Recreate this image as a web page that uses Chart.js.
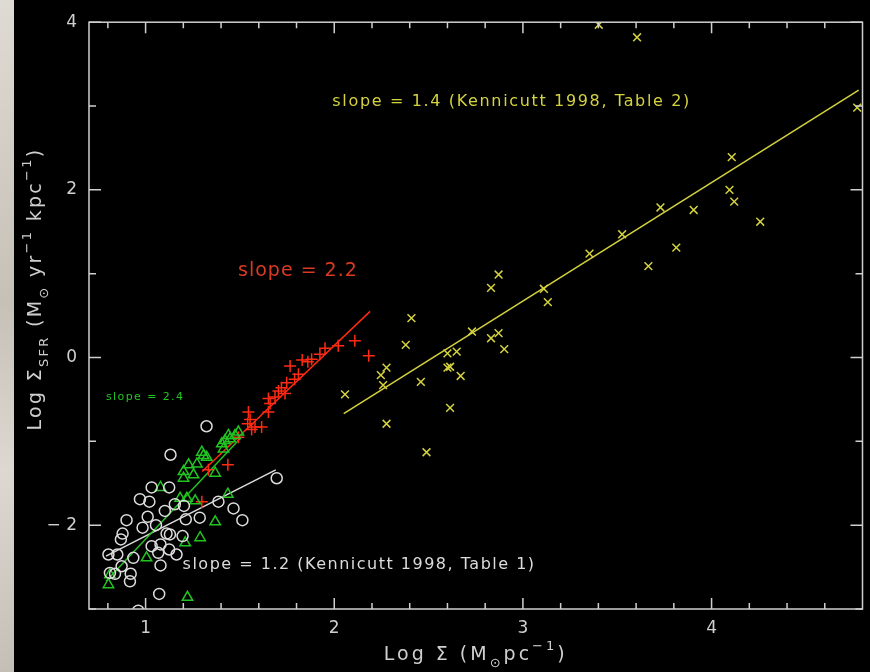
<!DOCTYPE html>
<html>
<head>
<meta charset="utf-8">
<script src="https://cdn.jsdelivr.net/npm/chart.js@4/dist/chart.umd.min.js"></script>
<style>
  html, body { margin: 0; padding: 0; background: #000; }
  #wrap { position: relative; width: 870px; height: 672px; background: #000; overflow: hidden; }
  #marble {
    position: absolute; left: 0; top: 0; width: 14px; height: 672px;
    background:
      linear-gradient(170deg, rgba(255,255,255,0.25) 0%, rgba(0,0,0,0) 20%, rgba(120,110,100,0.15) 45%, rgba(255,255,255,0.2) 70%, rgba(0,0,0,0.08) 100%),
      #d4cfc6;
  }
  canvas { position: absolute; left: 0; top: 0; }
</style>
</head>
<body>
<div id="wrap">
  <div id="marble"></div>
  <canvas id="sfr" width="870" height="672"></canvas>
</div>
<script>
// tick labels
const xMajorTicks = [1, 2, 3, 4];
const yMajorTicks = [-2, 0, 2, 4];

// Table 1 galaxies (white circles)
const circles = [
  [1.323,-0.82],[1.132,-1.16],[1.032,-1.55],[1.125,-1.55],[0.970,-1.69],[1.020,-1.72],
  [1.102,-1.83],[1.155,-1.75],[1.203,-1.77],[0.899,-1.94],[1.011,-1.90],[0.984,-2.03],
  [1.055,-2.00],[0.878,-2.10],[0.869,-2.17],[1.111,-2.10],[1.129,-2.11],[1.213,-1.93],
  [1.287,-1.91],[1.196,-2.13],[1.032,-2.25],[1.079,-2.23],[1.067,-2.33],[1.125,-2.29],
  [1.164,-2.35],[0.803,-2.35],[0.850,-2.35],[0.935,-2.39],[1.079,-2.48],[0.873,-2.49],
  [0.921,-2.58],[0.917,-2.67],[1.072,-2.82],[0.961,-3.02],[0.838,-2.58],[0.811,-2.57],
  [1.386,-1.72],[1.466,-1.80],[1.513,-1.94],[1.695,-1.44]
];

// green triangles
const triangles = [
  [1.492,-0.89],[1.474,-0.93],[1.439,-0.93],[1.448,-0.97],[1.421,-0.99],[1.404,-1.03],
  [1.413,-1.09],[1.298,-1.13],[1.307,-1.17],[1.324,-1.19],[1.272,-1.27],[1.228,-1.28],
  [1.201,-1.36],[1.201,-1.44],[1.254,-1.40],[1.369,-1.38],[1.183,-1.68],[1.219,-1.68],
  [1.263,-1.71],[1.436,-1.63],[1.369,-1.96],[1.289,-2.15],[1.210,-2.21],[1.079,-1.55],
  [1.005,-2.39],[0.811,-2.59],[0.803,-2.71],[1.222,-2.86]
];

// red plus signs
const pluses = [
  [2.109,0.20],[2.183,0.02],[2.021,0.14],[1.951,0.11],[1.924,0.04],[1.880,-0.02],
  [1.860,-0.05],[1.830,-0.03],[1.766,-0.10],[1.810,-0.20],[1.790,-0.26],[1.748,-0.30],
  [1.720,-0.36],[1.739,-0.43],[1.704,-0.40],[1.686,-0.47],[1.651,-0.49],[1.660,-0.55],
  [1.651,-0.65],[1.545,-0.65],[1.554,-0.74],[1.541,-0.79],[1.580,-0.83],[1.615,-0.83],
  [1.562,-0.86],[1.492,-0.95],[1.436,-1.28],[1.333,-1.34],[1.298,-1.72]
];

// Table 2 starbursts (yellow crosses)
const crosses = [
  [2.057,-0.44],[2.277,-0.12],[2.247,-0.21],[2.259,-0.33],[2.277,-0.79],[2.409,0.47],
  [2.379,0.15],[2.459,-0.29],[2.489,-1.13],[2.600,0.05],[2.649,0.07],[2.600,-0.12],
  [2.614,-0.11],[2.670,-0.22],[2.614,-0.60],[2.730,0.31],[2.831,0.83],[2.871,0.99],
  [2.831,0.23],[2.871,0.29],[2.901,0.10],[3.111,0.82],[3.132,0.66],[3.402,3.97],
  [3.605,3.82],[4.772,2.98],[4.107,2.39],[4.095,2.00],[4.120,1.86],[4.258,1.62],
  [3.905,1.76],[3.729,1.79],[3.813,1.31],[3.665,1.09],[3.526,1.47],[3.353,1.24]
];

// fitted lines (end points)
const fitTable2 = [[2.05,-0.67],[4.78,3.19]];
const fitRed = [[1.30,-1.36],[2.19,0.55]];
const fitGreen = [[0.79,-2.67],[1.50,-0.97]];
const fitTable1 = [[0.79,-2.37],[1.69,-1.34]];

const WHITE = '#dcdcdc', GREEN = '#22c422', RED = '#ff2a12', YELLOW = '#d4d23e', AXIS = '#cfcfcf';

const toXY = arr => arr.map(p => ({x: p[0], y: p[1]}));

function pts(label, data, color, style, r) {
  return {
    label: label, data: toXY(data), showLine: false,
    pointStyle: style, radius: r, borderColor: color, backgroundColor: 'rgba(0,0,0,0)',
    borderWidth: 1.5
  };
}
function fit(label, data, color) {
  return {
    label: label, data: toXY(data), showLine: true, pointRadius: 0,
    borderColor: color, borderWidth: 1.5, fill: false
  };
}

// slope annotations, placed in data coordinates
const notes = [
  {text: 'slope = 1.4 (Kennicutt 1998, Table 2)', x: 1.99, y: 3.05, color: YELLOW, size: 16, sp: 1.65},
  {text: 'slope = 2.2', x: 1.49, y: 1.03, color: '#d83a22', size: 19, sp: 1},
  {text: 'slope = 2.4', x: 0.79, y: -0.47, color: GREEN, size: 11, sp: 1.4},
  {text: 'slope = 1.2 (Kennicutt 1998, Table 1)', x: 1.196, y: -2.47, color: WHITE, size: 16, sp: 1.5}
];

const FONT = '"DejaVu Sans", sans-serif';

function drawRich(ctx, parts, size, sp) {
  // parts: [text, shift] where shift -1 = subscript, 1 = superscript; drawn centred at (0,0)
  const small = Math.round(size * 0.7);
  ctx.letterSpacing = sp + 'px';
  let total = 0;
  parts.forEach(p => {
    ctx.font = (p[1] ? small : size) + 'px ' + FONT;
    total += ctx.measureText(p[0]).width;
  });
  let x = -total / 2;
  ctx.textAlign = 'left';
  ctx.textBaseline = 'middle';
  parts.forEach(p => {
    ctx.font = (p[1] ? small : size) + 'px ' + FONT;
    const dy = p[1] === -1 ? size * 0.45 : (p[1] === 1 ? -size * 0.45 : 0);
    ctx.fillText(p[0], x, dy);
    x += ctx.measureText(p[0]).width;
  });
  ctx.letterSpacing = '0px';
}

const framePlugin = {
  id: 'frame',
  afterDatasetsDraw(chart) {
    const ctx = chart.ctx, a = chart.chartArea;
    const xs = chart.scales.x, ys = chart.scales.y;
    ctx.save();
    ctx.strokeStyle = AXIS;
    ctx.lineWidth = 1.5;
    ctx.strokeRect(a.left, a.top, a.right - a.left, a.bottom - a.top);
    ctx.beginPath();
    for (let i = 4; i <= 23; i++) {
      const v = i / 5;
      const px = xs.getPixelForValue(v);
      const len = (i % 5 === 0) ? 11 : 6;
      ctx.moveTo(px, a.bottom); ctx.lineTo(px, a.bottom - len);
      ctx.moveTo(px, a.top); ctx.lineTo(px, a.top + len);
    }
    for (let v = -3; v <= 4; v++) {
      const py = ys.getPixelForValue(v);
      const len = (v % 2 === 0) ? 12 : 7;
      ctx.moveTo(a.left, py); ctx.lineTo(a.left + len, py);
      ctx.moveTo(a.right, py); ctx.lineTo(a.right - len, py);
    }
    ctx.stroke();

    notes.forEach(n => {
      ctx.fillStyle = n.color;
      ctx.font = n.size + 'px ' + FONT;
      ctx.letterSpacing = n.sp + 'px';
      ctx.textAlign = 'left';
      ctx.textBaseline = 'middle';
      ctx.fillText(n.text, xs.getPixelForValue(n.x), ys.getPixelForValue(n.y));
    });
    ctx.letterSpacing = '0px';

    ctx.fillStyle = AXIS;
    ctx.save();
    ctx.translate((a.left + a.right) / 2, 655);
    drawRich(ctx, [['Log Σ (M', 0], ['⊙', -1], ['pc', 0], ['−1', 1], [')', 0]], 19, 3);
    ctx.restore();
    ctx.save();
    ctx.translate(36, 289);
    ctx.rotate(-Math.PI / 2);
    drawRich(ctx, [['Log Σ', 0], ['SFR', -1], [' (M', 0], ['⊙', -1], [' yr', 0], ['−1', 1], [' kpc', 0], ['−1', 1], [')', 0]], 19, 2.3);
    ctx.restore();
    ctx.restore();
  }
};

new Chart(document.getElementById('sfr'), {
  type: 'scatter',
  data: {
    datasets: [
      pts('Table 1', circles, WHITE, 'circle', 5.5),
      pts('triangles', triangles, GREEN, 'triangle', 6),
      pts('plus', pluses, RED, 'cross', 6),
      pts('Table 2', crosses, YELLOW, 'crossRot', 5.5),
      fit('fit 1.4', fitTable2, YELLOW),
      fit('fit 2.2', fitRed, RED),
      fit('fit 2.4', fitGreen, GREEN),
      fit('fit 1.2', fitTable1, WHITE)
    ]
  },
  options: {
    responsive: false,
    animation: false,
    layout: { padding: { top: 18, right: 6, left: 0, bottom: 0 } },
    plugins: { legend: { display: false }, tooltip: { enabled: false } },
    scales: {
      x: {
        type: 'linear', min: 0.7, max: 4.8,
        grid: { display: false, drawTicks: false }, border: { display: false },
        afterBuildTicks: s => { s.ticks = xMajorTicks.map(v => ({value: v})); },
        afterFit: s => { s.height = 63; },
        ticks: { color: AXIS, font: { family: FONT, size: 17 }, padding: 9, maxRotation: 0 }
      },
      y: {
        type: 'linear', min: -3, max: 4,
        grid: { display: false, drawTicks: false }, border: { display: false },
        afterBuildTicks: s => { s.ticks = yMajorTicks.map(v => ({value: v})); },
        afterFit: s => { s.width = 89; },
        ticks: { color: AXIS, font: { family: FONT, size: 17 }, padding: 12,
                 callback: v => v < 0 ? '− ' + Math.abs(v) : String(v) }
      }
    }
  },
  plugins: [framePlugin]
});
</script>
</body>
</html>
